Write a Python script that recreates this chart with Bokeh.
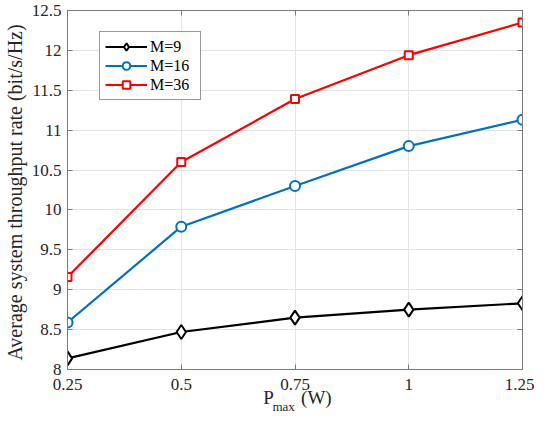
from bokeh.plotting import figure
from bokeh.models import FixedTicker, LinearAxis, Range1d, Legend, LegendItem
from bokeh.embed import file_html
from bokeh.resources import INLINE

# ---- data ----
p_max = [0.25, 0.5, 0.75, 1.0, 1.25]
rate_m9 = [8.14, 8.47, 8.65, 8.75, 8.83]
rate_m16 = [8.59, 9.79, 10.30, 10.80, 11.13]
rate_m36 = [9.16, 10.60, 11.39, 11.94, 12.35]
series_names = ["M=9", "M=16", "M=36"]

x_ticks = [0.25, 0.5, 0.75, 1.0, 1.25]
x_tick_labels = ["0.25", "0.5", "0.75", "1", "1.25"]
y_ticks = [8, 8.5, 9, 9.5, 10, 10.5, 11, 11.5, 12, 12.5]
y_tick_labels = ["8", "8.5", "9", "9.5", "10", "10.5", "11", "11.5", "12", "12.5"]
y_label = "Average system throughput rate  (bit/s/Hz)"
x_label_main = "P"
x_label_sub = "max"
x_label_unit = "(W)"

FONT = "Liberation Serif"
AX = "#7a7a7a"
TXT = "#262626"

p = figure(width=534, height=416, output_backend="svg", toolbar_location=None,
           x_range=Range1d(0.25, 1.25), y_range=Range1d(8, 12.5),
           min_border_left=61, min_border_right=12, min_border_top=10, min_border_bottom=0)
p.background_fill_color = "white"
p.border_fill_color = "white"
p.outline_line_color = AX
p.outline_line_width = 1

xt = FixedTicker(ticks=x_ticks)
yt = FixedTicker(ticks=y_ticks)

for ax in p.xaxis:
    ax.ticker = xt
    ax.major_label_overrides = {t: l for t, l in zip(x_ticks, x_tick_labels)}
for ax in p.yaxis:
    ax.ticker = yt
    ax.major_label_overrides = {t: l for t, l in zip(y_ticks, y_tick_labels)}

for ax in p.axis:
    ax.axis_line_color = AX
    ax.major_tick_line_color = AX
    ax.major_tick_in = 5
    ax.major_tick_out = 0
    ax.minor_tick_line_color = None
    ax.major_label_text_font = FONT
    ax.major_label_text_font_size = "17px"
    ax.major_label_text_color = TXT

p.xaxis.major_label_standoff = 9
p.yaxis.major_label_standoff = 6
p.yaxis.axis_label = y_label
p.yaxis.axis_label_text_font = FONT
p.yaxis.axis_label_text_font_size = "20px"
p.yaxis.axis_label_text_font_style = "normal"
p.yaxis.axis_label_text_color = TXT
p.yaxis.axis_label_standoff = 3

top = LinearAxis(ticker=xt, major_label_overrides={t: "" for t in x_ticks})
right = LinearAxis(ticker=yt, major_label_overrides={t: "" for t in y_ticks})
for ax in (top, right):
    ax.axis_line_color = AX
    ax.major_tick_line_color = AX
    ax.major_tick_in = 5
    ax.major_tick_out = 0
    ax.minor_tick_line_color = None
    ax.major_label_text_font_size = "0px"
    ax.major_label_standoff = 0
p.add_layout(top, "above")
p.add_layout(right, "right")

# x-axis title "P_max (W)" drawn as label-only axes stacked below the tick labels
pos_main, pos_sub, pos_unit = 0.692, 0.725, 0.797
lab1 = LinearAxis(ticker=FixedTicker(ticks=[pos_main, pos_unit]),
                  major_label_overrides={pos_main: x_label_main, pos_unit: x_label_unit})
lab2 = LinearAxis(ticker=FixedTicker(ticks=[pos_sub]),
                  major_label_overrides={pos_sub: x_label_sub})
for ax, fs, so in ((lab1, "19px", -6), (lab2, "13px", -12)):
    ax.axis_line_color = None
    ax.major_tick_line_color = None
    ax.minor_tick_line_color = None
    ax.major_tick_in = 0
    ax.major_tick_out = 0
    ax.major_label_text_font = FONT
    ax.major_label_text_font_size = fs
    ax.major_label_text_color = TXT
    ax.major_label_standoff = so
p.add_layout(lab1, "below")
p.add_layout(lab2, "below")

p.xgrid.ticker = xt
p.ygrid.ticker = yt
p.xgrid.grid_line_color = "#e4e4e4"
p.ygrid.grid_line_color = "#e4e4e4"

colors = ["#000000", "#0072BD", "#FF0000"]
markers = ["diamond", "circle", "square"]
sizes = [14, 10, 8]
items = []
for ys, c, m, s, name in zip([rate_m9, rate_m16, rate_m36], colors, markers, sizes, series_names):
    ln = p.line(p_max, ys, line_color=c, line_width=2.2)
    sc = p.scatter(p_max, ys, marker=m, size=s, line_color=c, line_width=2, fill_color="white")
    items.append(LegendItem(label=name, renderers=[ln, sc]))

legend = Legend(items=items, location=(32, 269))
legend.label_text_font = FONT
legend.label_text_font_size = "16px"
legend.label_text_color = "#000000"
legend.glyph_width = 42
legend.glyph_height = 19
legend.spacing = 0
legend.padding = 5
legend.margin = 0
legend.label_standoff = 3
legend.label_height = 19
legend.label_width = 45
legend.border_line_color = "#333333"
legend.border_line_width = 1
legend.background_fill_color = "white"
legend.background_fill_alpha = 1
p.add_layout(legend, "center")

open("out.html", "w").write(file_html(p, INLINE))
